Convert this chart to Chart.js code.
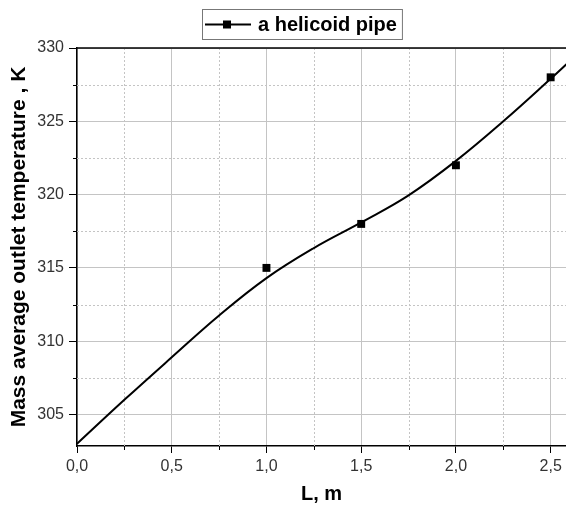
<!DOCTYPE html>
<html>
<head>
<meta charset="utf-8">
<script src="https://cdn.jsdelivr.net/npm/chart.js@4.4.1/dist/chart.umd.min.js"></script>
<style>
  body { margin: 0; background: #fff; }
  #wrap { width: 566px; height: 506px; }
</style>
</head>
<body>
<div id="wrap"><canvas id="myChart"></canvas></div>
<script>
// fitted curve
const curveX = [0, 0.25, 0.5, 0.75, 1.0, 1.25, 1.5, 1.75, 2.0, 2.25, 2.5, 2.6];
const curveY = [303.0, 306.0, 308.9, 311.75, 314.3, 316.35, 318.1, 319.95, 322.3, 325.0, 327.9, 329.1];

// measured points
const lengths = [1.0, 1.5, 2.0, 2.5];
const temps = [315, 318, 322, 328];

const xTicks = [0, 0.5, 1.0, 1.5, 2.0, 2.5];
const yTicks = [305, 310, 315, 320, 325, 330];
const xMinor = [0.25, 0.75, 1.25, 1.75, 2.25];
const yMinor = [307.5, 312.5, 317.5, 322.5, 327.5];

const seriesName = 'a helicoid pipe';
const FONT = '"Liberation Sans", Arial, sans-serif';

function fmt(v) {
    return v.toFixed(1).replace('.', ',');
}

// minor dotted grid, top frame line, minor ticks and the legend box
const framePlugin = {
    id: 'frame',
    beforeDatasetsDraw(chart) {
        const ctx = chart.ctx, a = chart.chartArea;
        const xs = chart.scales.x, ys = chart.scales.y;
        ctx.save();
        ctx.strokeStyle = '#c4c4c4';
        ctx.lineWidth = 1;
        ctx.setLineDash([2, 2]);
        xMinor.forEach(function(v) {
            const px = Math.round(xs.getPixelForValue(v)) + 0.5;
            ctx.beginPath(); ctx.moveTo(px, a.top); ctx.lineTo(px, a.bottom); ctx.stroke();
        });
        yMinor.forEach(function(v) {
            const py = Math.round(ys.getPixelForValue(v)) + 0.5;
            ctx.beginPath(); ctx.moveTo(a.left, py); ctx.lineTo(a.right, py); ctx.stroke();
        });
        ctx.restore();
    },
    afterDraw(chart) {
        const ctx = chart.ctx, a = chart.chartArea;
        const xs = chart.scales.x, ys = chart.scales.y;
        ctx.save();
        ctx.strokeStyle = '#000';
        ctx.lineWidth = 1.5;
        ctx.beginPath(); ctx.moveTo(a.left, a.top); ctx.lineTo(a.right, a.top); ctx.stroke();
        ctx.lineWidth = 1;
        xMinor.forEach(function(v) {
            const px = Math.round(xs.getPixelForValue(v)) + 0.5;
            ctx.beginPath(); ctx.moveTo(px, a.bottom); ctx.lineTo(px, a.bottom + 4); ctx.stroke();
        });
        yMinor.forEach(function(v) {
            const py = Math.round(ys.getPixelForValue(v)) + 0.5;
            ctx.beginPath(); ctx.moveTo(a.left - 4, py); ctx.lineTo(a.left, py); ctx.stroke();
        });

        // legend
        ctx.font = 'bold 20px ' + FONT;
        const tw = ctx.measureText(seriesName).width;
        const bx = 202, by = 9, bh = 30;
        const bw = 56 + tw + 5;
        ctx.strokeStyle = '#777';
        ctx.strokeRect(bx + 0.5, by + 0.5, bw, bh);
        const cy = by + bh / 2 + 0.5;
        ctx.strokeStyle = '#000';
        ctx.lineWidth = 2;
        ctx.beginPath(); ctx.moveTo(bx + 3, cy); ctx.lineTo(bx + 49, cy); ctx.stroke();
        ctx.fillStyle = '#000';
        ctx.fillRect(bx + 21, cy - 4, 8, 8);
        ctx.textBaseline = 'middle';
        ctx.fillText(seriesName, bx + 56, cy + 1);
        ctx.restore();
    }
};

const ctx = document.getElementById('myChart').getContext('2d');
const myChart = new Chart(ctx, {
    type: 'line',
    data: {
        datasets: [{
            label: seriesName,
            data: curveX.map(function(x, i) { return { x: x, y: curveY[i] }; }),
            borderColor: '#000',
            borderWidth: 2,
            pointRadius: 0,
            tension: 0.4,
            fill: false
        }, {
            label: seriesName + ' points',
            data: lengths.map(function(x, i) { return { x: x, y: temps[i] }; }),
            showLine: false,
            pointStyle: 'rect',
            pointRadius: 5.6,
            pointBackgroundColor: '#000',
            pointBorderColor: '#000',
            borderWidth: 0
        }]
    },
    options: {
        responsive: true,
        maintainAspectRatio: false,
        animation: false,
        layout: { autoPadding: false, padding: { top: 48, right: 0, left: 0, bottom: 0 } },
        plugins: {
            legend: { display: false },
            tooltip: { enabled: false }
        },
        scales: {
            x: {
                type: 'linear',
                min: 0,
                max: 2.581,
                afterBuildTicks: function(scale) {
                    scale.ticks = xTicks.map(function(v) { return { value: v }; });
                },
                afterFit: function(scale) {
                    scale.height = 60;
                    scale.paddingLeft = 0;
                    scale.paddingRight = 0;
                },
                ticks: {
                    callback: function(v) { return fmt(v); },
                    color: '#333',
                    font: { family: FONT, size: 16 },
                    padding: 4,
                    maxRotation: 0
                },
                grid: { color: '#c4c4c4', lineWidth: 1, tickColor: '#000', tickLength: 7 },
                border: { color: '#000', width: 1.5 },
                title: {
                    display: true,
                    text: 'L, m',
                    color: '#000',
                    font: { family: FONT, size: 20, weight: 'bold' },
                    padding: { top: 0, bottom: 0 }
                }
            },
            y: {
                min: 302.85,
                max: 330,
                afterBuildTicks: function(scale) {
                    scale.ticks = yTicks.map(function(v) { return { value: v }; });
                },
                afterFit: function(scale) {
                    scale.width = 77;
                    scale.paddingTop = 0;
                    scale.paddingBottom = 0;
                },
                ticks: {
                    color: '#333',
                    font: { family: FONT, size: 16 },
                    padding: 5
                },
                grid: { color: '#c4c4c4', lineWidth: 1, tickColor: '#000', tickLength: 8 },
                border: { color: '#000', width: 1.5 },
                title: {
                    display: true,
                    text: 'Mass average outlet temperature , K',
                    color: '#000',
                    font: { family: FONT, size: 21, weight: 'bold' },
                    padding: { top: 7, bottom: 0 }
                }
            }
        }
    },
    plugins: [framePlugin]
});
</script>
</body>
</html>
